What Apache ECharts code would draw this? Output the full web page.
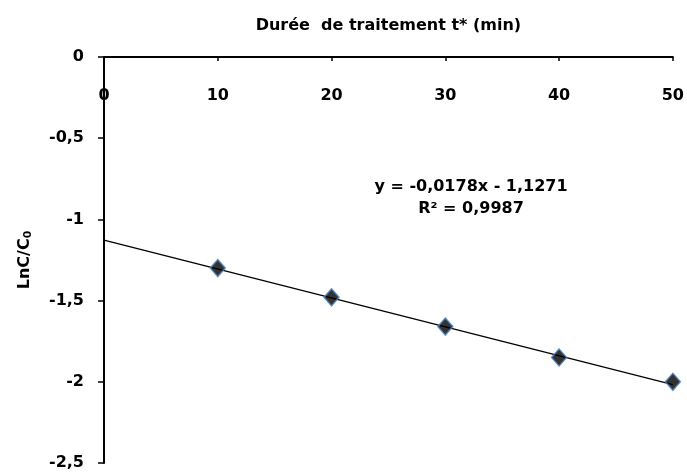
<!DOCTYPE html>
<html><head><meta charset="utf-8">
<script src="https://cdn.jsdelivr.net/npm/echarts@6/dist/echarts.min.js"></script>
<style>html,body{margin:0;padding:0;background:#fff}#c{width:687px;height:473px}</style>
</head><body><div id="c"></div>
<script>
const times = [10, 20, 30, 40, 50];
const lnRatio = [-1.30, -1.48, -1.66, -1.85, -2.00];
const slope = -0.0178;
const intercept = -1.1271;
const trendX = [0, 50];
const eqLine1 = 'y = -0,0178x - 1,1271';
const eqLine2 = 'R² = 0,9987';
const xTitle = 'Durée  de traitement t* (min)';

const F = '"DejaVu Sans", sans-serif';
const chart = echarts.init(document.getElementById('c'));
chart.setOption({
  animation: false,
  grid: { left: 104, right: 13, top: 57, bottom: 10 },
  xAxis: {
    type: 'value', position: 'top', min: 0, max: 50, interval: 10,
    name: xTitle, nameLocation: 'middle', nameGap: 23,
    nameTextStyle: { fontFamily: F, fontWeight: 'bold', fontSize: 16, color: '#000' },
    axisLine: { onZero: false, lineStyle: { color: '#000', width: 2 } },
    axisTick: { inside: true, length: 4, lineStyle: { color: '#000', width: 1.5 } },
    axisLabel: { inside: true, margin: 31, fontFamily: F, fontWeight: 'bold', fontSize: 16, color: '#000' },
    splitLine: { show: false }
  },
  yAxis: {
    type: 'value', min: -2.5, max: 0, interval: 0.5,
    name: 'LnC/C{s|0}', nameLocation: 'middle', nameGap: 70, nameRotate: 90,
    nameTextStyle: { fontFamily: F, fontWeight: 'bold', fontSize: 16, color: '#000',
      rich: { s: { fontFamily: F, fontWeight: 'bold', fontSize: 11, color: '#000', verticalAlign: 'bottom', padding: [7, 0, 0, 0] } } },
    axisLine: { onZero: false, lineStyle: { color: '#000', width: 2 } },
    axisTick: { length: 6, lineStyle: { color: '#000', width: 1.5 } },
    axisLabel: { margin: 20, fontFamily: F, fontWeight: 'bold', fontSize: 16, color: '#000',
      formatter: v => String(v).replace('.', ',') },
    splitLine: { show: false }
  },
  series: [
    {
      type: 'line', data: trendX.map(x => [x, slope * x + intercept]),
      symbol: 'none', lineStyle: { color: '#000', width: 1.3 }, z: 2
    },
    {
      type: 'scatter', data: times.map((t, i) => [t, lnRatio[i]]),
      symbol: 'diamond', symbolSize: [15, 17],
      itemStyle: { color: '#000', borderColor: '#4A7EBB', borderWidth: 1.5 }, z: 3
    }
  ],
  graphic: [
    { type: 'text', x: 471, y: 187, style: { text: eqLine1, font: 'bold 16px ' + F, fill: '#000', align: 'center', verticalAlign: 'middle' } },
    { type: 'text', x: 471, y: 209, style: { text: eqLine2, font: 'bold 16px ' + F, fill: '#000', align: 'center', verticalAlign: 'middle' } }
  ]
});
</script></body></html>
